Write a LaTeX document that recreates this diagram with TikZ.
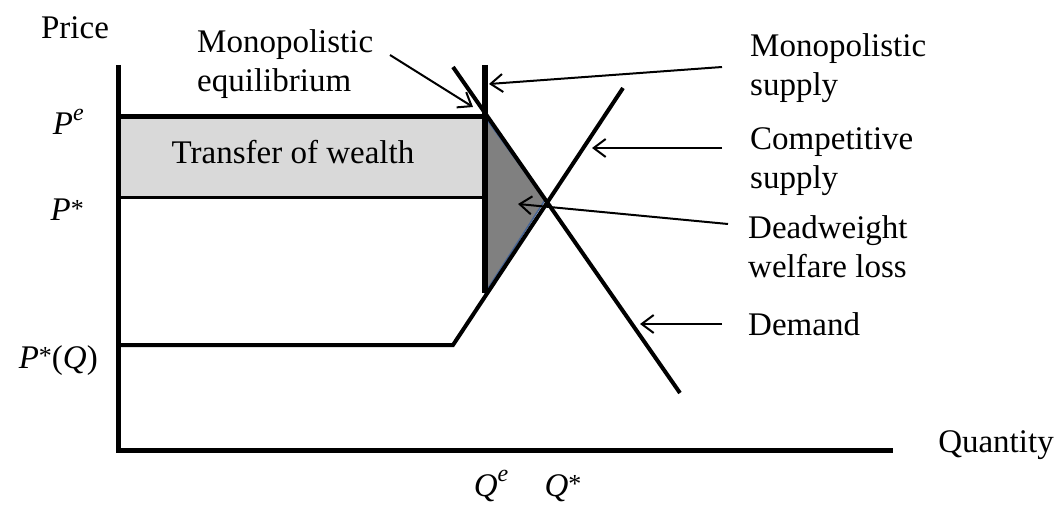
\documentclass[tikz,border=0pt]{standalone}
\usepackage{fontspec}
\setmainfont{Liberation Serif}
\usetikzlibrary{arrows.meta}
\newcommand{\mysup}[1]{\raisebox{0.45em}{\fontsize{24}{24}\selectfont #1}}
\newcommand{\myast}{\raisebox{0.12em}{\fontsize{26}{26}\selectfont *}}
\begin{document}
\begin{tikzpicture}[x=1pt,y=-1pt,
  lbl/.style={font=\fontsize{33}{39}\selectfont, inner sep=0pt},
  txt/.style={lbl, align=left, anchor=west},
  ptr/.style={line width=2pt, -{Straight Barb[length=12pt,width=18pt,line width=2pt]}},
  curve/.style={line width=4pt},
  axis/.style={line width=5pt}]
\useasboundingbox (0,0) rectangle (1057,505);
% shaded regions
\fill[gray!30] (118,117) rectangle (485,198);
\coordinate (E) at (485,117);
\coordinate (X) at (545,200);
\coordinate (B) at (485,293);
\filldraw[fill=gray, draw={rgb,255:red,70;green,100;blue,150}, line width=1.5pt] (E) -- (X) -- (B) -- cycle;
% axes
\coordinate (O) at (118,450);
\coordinate (Ytop) at (118,65);
\coordinate (Xend) at (893,450);
\draw[axis] (Ytop) -- (O) -- (Xend);
% price lines
\draw[line width=5pt] (118,117) -- (E);
\draw[line width=3pt] (118,198) -- (485,198);
% monopolistic supply (vertical)
\coordinate (Mtop) at (485,65);
\draw[line width=6pt] (Mtop) -- (B);
% demand
\coordinate (Dtop) at (453,67);
\coordinate (Dbot) at (680,393);
\draw[curve] (Dtop) -- (Dbot);
% competitive supply
\coordinate (Stop) at (623,88);
\coordinate (K) at (453,345);
\coordinate (Sleft) at (118,345);
\draw[curve] (Stop) -- (K) -- (Sleft);
% labels
\node[lbl] (price) at (75,28) {Price};
\node[lbl] (quant) at (996,445) {Quantity};
\node[lbl] (tw) at (293,152) {Transfer of wealth};
\node[lbl, anchor=base east] (pe) at (84,135) {\textit{P}\mysup{\textit{e}}};
\node[lbl, anchor=base east] (ps) at (84,221) {\textit{P}\myast};
\node[lbl, anchor=base east] (pq) at (98,368) {\textit{P}\myast(\textit{Q})};
\node[lbl, anchor=base] (qe) at (491,496) {\textit{Q}\mysup{\textit{e}}};
\node[lbl, anchor=base] (qs) at (563,496) {\textit{Q}\myast};
\node[txt] (meq) at (197,64) {Monopolistic\\equilibrium};
\node[txt] (msup) at (750,68) {Monopolistic\\supply};
\node[txt] (csup) at (750,162) {Competitive\\supply};
\node[txt] (dwl) at (748,247) {Deadweight\\welfare loss};
\node[txt] (dem) at (748,324) {Demand};
% pointers
\coordinate (a1) at (390,55);
\coordinate (a1t) at (473,107);
\draw[ptr] (a1) -- (a1t);
\coordinate (a2) at (722,67);
\coordinate (a2t) at (489,84);
\draw[ptr] (a2) -- (a2t);
\coordinate (a3) at (722,148);
\coordinate (a3t) at (592,148);
\draw[ptr] (a3) -- (a3t);
\coordinate (a4) at (728,224);
\coordinate (a4t) at (518,204);
\draw[ptr] (a4) -- (a4t);
\coordinate (a5) at (722,324);
\coordinate (a5t) at (640,324);
\draw[ptr] (a5) -- (a5t);
\end{tikzpicture}
\end{document}
